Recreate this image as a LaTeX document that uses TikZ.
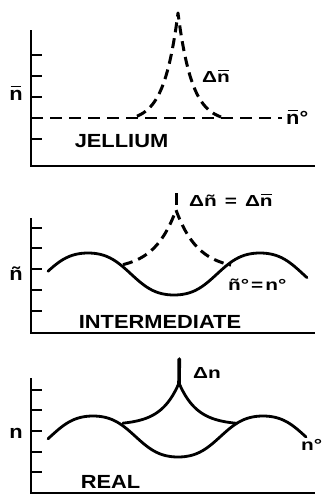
\documentclass[tikz,border=0pt]{standalone}
\usepackage{fontspec}
\newfontfamily\labfont{Liberation Sans}[FakeStretch=1.15]
\newfontfamily\smlfont{Liberation Sans}[FakeStretch=1.3]
\newcommand\barn{\setbox0=\hbox{n}\rlap{\kern0.07em\raisebox{\dimexpr\ht0+0.12em\relax}{\rule{\dimexpr\wd0-0.14em\relax}{0.09em}}}n}
\begin{document}
\begin{tikzpicture}[x=1pt,y=-1pt,
  declare function={wf(\tht)=1.05*cos(\tht)-0.05*cos(3*\tht);},
  axis/.style={line width=2pt},
  tickmark/.style={line width=2pt},
  curve/.style={line width=2.8pt, line join=round, line cap=round},
  dcurve/.style={line width=3pt, line join=round, dash pattern=on 10pt off 6pt},
  baseline dash/.style={line width=2pt, dash pattern=on 12pt off 7pt},
  big/.style={font=\labfont\bfseries\fontsize{19}{20}\selectfont, inner sep=0pt},
  small/.style={font=\smlfont\bfseries\fontsize{16}{17}\selectfont, inner sep=0pt}]
\useasboundingbox (0,0) rectangle (322,496);

% ---------- panel 1: jellium ----------
\draw[axis] (31,30) -- (31,166) -- (315,166);
\foreach \yy in {55,76,97,118,139} \draw[tickmark] (31,\yy) -- (42,\yy);
\draw[baseline dash] (31,118) -- (282,118);
\draw[dcurve] plot[domain=137:221, samples=169] (\x,{122-109*exp(-abs(\x-178)/14)});
\node[big, anchor=base] (ax1) at (16,100) {\barn};
\node[big, anchor=base] (jel) at (121.5,147) {JELLIUM};
\node[small, anchor=base west] (dn1) at (202,82) {Δ\barn};
\node[big, anchor=base west] (n01) at (286,124) {\barn°};

% ---------- panel 2: intermediate ----------
\draw[axis] (31,218) -- (31,333) -- (315,333);
\foreach \yy in {228,248,269,290,311} \draw[tickmark] (31,\yy) -- (42,\yy);
\draw[curve] plot[domain=48:307, samples=130] (\x,{274-21*wf(2.093*(\x-88))});
\draw[dcurve] plot[domain=123:231, samples=217] (\x,{270-60*exp(-abs(\x-176)/22)});
\draw[line width=3pt] (176,193) -- (176,205);
\node[big, anchor=base] (ax2) at (16,280) {ñ};
\node[big, anchor=base] (inter) at (160,328) {INTERMEDIATE};
\node[small, anchor=base west] (dn2) at (189,206) {Δñ\hspace{8pt}=\hspace{8pt}Δ\barn};
\node[small, anchor=base west] (n02) at (228,290) {ñ°\hspace{2pt}=\hspace{2pt}n°};

% ---------- panel 3: real ----------
\draw[axis] (31,378) -- (31,493) -- (315,493);
\foreach \yy in {390,410,431,452,472} \draw[tickmark] (31,\yy) -- (42,\yy);
\draw[curve] plot[domain=48:306, samples=130] (\x,{436.5-20.5*wf(2.1176*(\x-93))});
\draw[curve] plot[domain=123:237, samples=229] (\x,{425-42*exp(-abs(\x-179)/18)});
\draw[line width=3.6pt, line cap=round] (179,385) -- (179.3,359);
\node[big, anchor=base] (ax3) at (16,438) {n};
\node[big, anchor=base] (real) at (110.5,488) {REAL};
\node[small, anchor=base west] (dn3) at (193,378) {Δn};
\node[small, anchor=base west] (n03) at (301,450) {n°};
\end{tikzpicture}
\end{document}
